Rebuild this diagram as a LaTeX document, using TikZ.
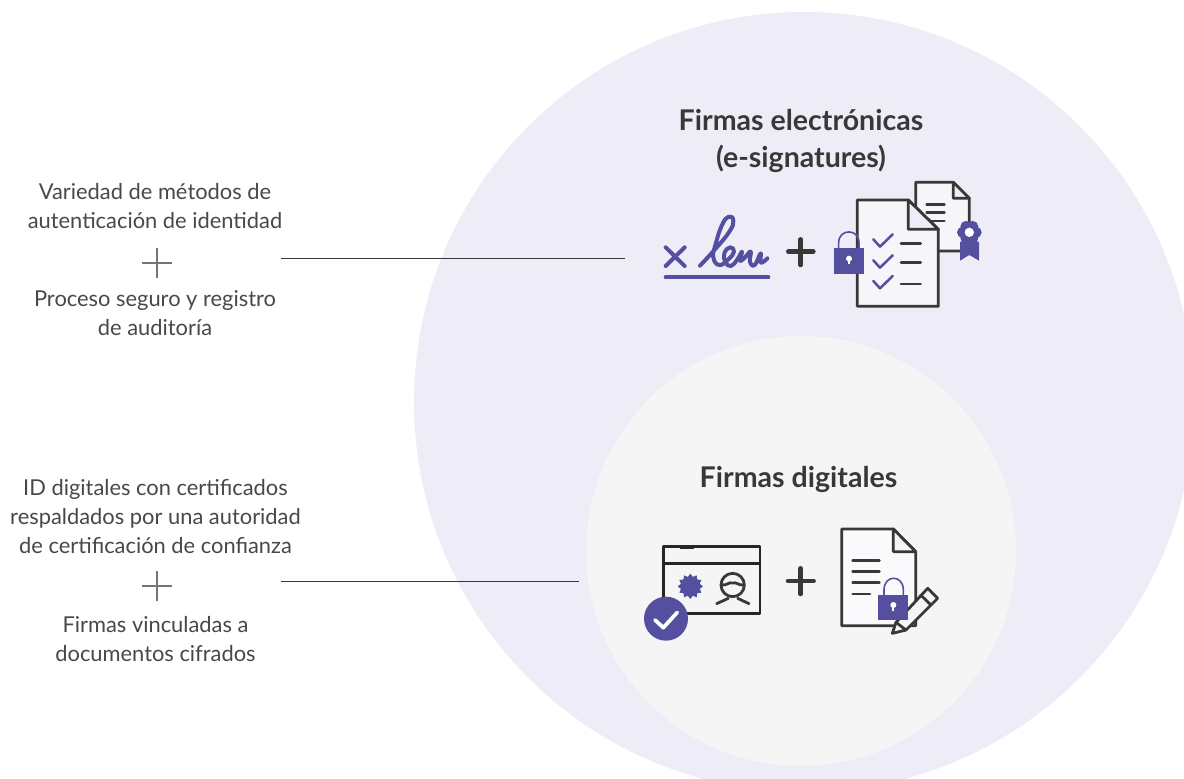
\documentclass[tikz,border=0pt]{standalone}
\usepackage{fontspec}
\setmainfont{Lato}
\usetikzlibrary{shapes.geometric}
\definecolor{outerfill}{HTML}{EEECF7}
\definecolor{innerfill}{HTML}{F5F5F5}
\definecolor{signpurple}{HTML}{54509F}
\definecolor{icondark}{HTML}{3A3837}
\definecolor{pagefill}{HTML}{F6F6FA}
\definecolor{sidetext}{HTML}{484848}
\definecolor{plusgray}{HTML}{757575}
\tikzset{
  sidelabel/.style={align=center,text=sidetext,font=\fontsize{16.4}{21.75}\selectfont},
  headlabel/.style={align=center,text=icondark,font=\fontsize{21.4}{27.75}\selectfont\bfseries},
  iconline/.style={draw=icondark,line width=2.1pt,line join=round,line cap=round},
  checkline/.style={draw=signpurple,line width=1.9pt,line cap=round,line join=round},
  bigplus/.style={draw=icondark,line width=3.4pt,line cap=round},
  sideplus/.style={draw=plusgray,line width=2.1pt}
}
\begin{document}
\begin{tikzpicture}[x=0.75pt,y=-0.75pt]
  \useasboundingbox (0,0) rectangle (1184,778);
  \clip (0,0) rectangle (1184,778);
  % circles
  \fill[outerfill] (804,402) circle (390);
  \fill[innerfill] (801,551) circle (215);
  % headings
  \node[headlabel] (outerhead) at (801,140.5) {Firmas electrónicas\\(e-signatures)};
  \node[headlabel] (innerhead) at (798.5,479) {Firmas digitales};
  % left column
  \node[sidelabel] (authtext) at (155,205.7) {Variedad de métodos de\\autenticación de identidad};
  \node[sidelabel] (audittext) at (155,312.7) {Proceso seguro y registro\\de auditoría};
  \node[sidelabel] (certtext) at (155.5,516.2) {ID digitales con certificados\\respaldados por una autoridad\\de certificación de confianza};
  \node[sidelabel] (cipertext) at (155.5,638.7) {Firmas vinculadas a\\documentos cifrados};
  \draw[sideplus] (142,263) -- (172,263);
  \draw[sideplus] (157,248) -- (157,278);
  \draw[sideplus] (142,586) -- (172,586);
  \draw[sideplus] (157,571) -- (157,601);
  % connectors
  \coordinate (topstart) at (281,258);
  \coordinate (topend) at (625,258);
  \coordinate (lowstart) at (281,581);
  \coordinate (lowend) at (579,581);
  \draw[icondark,line width=0.7pt] (topstart) -- (topend);
  \draw[icondark,line width=0.7pt] (lowstart) -- (lowend);
  % upper icons
  \begin{scope}[shift={(650,170)},scale=1/3]
    \draw[signpurple,line width=3pt,line cap=round] (47,232) -- (104,288);
    \draw[signpurple,line width=3pt,line cap=round] (104,232) -- (47,288);
    \draw[signpurple,line width=3pt,line cap=round] (47,322) -- (355,322);
    \draw[signpurple,line width=3pt,line cap=round,line join=round] plot[smooth,tension=0.8] coordinates {
      (150,287) (195,238) (238,185) (250,152) (236,140) (216,165) (197,222) (190,262) (208,285)
      (235,268) (252,245) (240,232) (223,250) (226,276) (243,288) (262,268) (276,245)
      (270,272) (285,262) (302,245) (300,275) (314,285) (332,250) (332,278) (352,265)};
    % back page
    \draw[iconline,fill=pagefill] (797,37) -- (910,37) -- (958,85) -- (958,243) -- (797,243) -- cycle;
    \draw[iconline,fill=outerfill] (910,37) -- (910,85) -- (958,85) -- cycle;
    \foreach \ypos in {104,128,153}
      \draw[iconline] (830,\ypos) -- (883,\ypos);
    % rosette
    \fill[signpurple] (930,215) -- (987,215) -- (987,272) -- (958,255) -- (930,272) -- cycle;
    \foreach \ang in {0,60,...,300}
      \fill[signpurple] (958,187) ++(\ang:20) circle (17);
    \fill[signpurple] (958,187) circle (25);
    \fill[white] (958,187) circle (14);
    % front page
    \draw[iconline,fill=pagefill] (622,90) -- (775,90) -- (865,178) -- (865,409) -- (622,409) -- cycle;
    \draw[iconline,fill=outerfill] (775,90) -- (775,178) -- (865,178) -- cycle;
    \foreach \ypos/\ydash in {0/221,63/277,125/342} {
      \draw[checkline] (670,208+\ypos) -- (690,230+\ypos) -- (728,193+\ypos);
      \draw[iconline] (753,\ydash) -- (812,\ydash);
    }
    % lock
    \draw[signpurple,line width=1.2pt] (566,235) -- (566,218) .. controls (566,175) and (627,175) .. (627,218) -- (627,235);
    \fill[signpurple] (552,235) rectangle (642,312);
    \fill[white] (597,266) circle (9);
    \draw[white,line width=1.4pt] (597,266) -- (597,283);
    % plus
    \draw[bigplus] (415,245) -- (490,245);
    \draw[bigplus] (452,208) -- (452,285);
  \end{scope}
  % lower icons
  \begin{scope}[shift={(630,515)},scale=1/3]
    \draw[draw=black!85,line width=2.1pt,line join=round] (100,95) rectangle (390,296);
    \draw[draw=black!85,line width=2.1pt] (100,145) -- (390,145);
    \draw[draw=black!85,line width=3.2pt] (150,95) -- (193,95);
    \node (seal) [star,star points=12,star point ratio=1.3,fill=signpurple,inner sep=0pt,minimum size=19pt] at (181,214) {};
    % person
    \draw[iconline] (308,210) circle (35);
    \draw[iconline] (275,210) .. controls (292,212) and (296,200) .. (308,204) .. controls (320,200) and (325,212) .. (341,210);
    \draw[iconline] (260,266) -- (295,250);
    \draw[iconline] (323,250) -- (357,266);
    % check badge
    \fill[signpurple] (108,311) circle (66);
    \draw[white,line width=2.8pt,line cap=round,line join=round] (75,315) -- (100,338) -- (142,292);
    % plus
    \draw[bigplus] (474,198) -- (551,198);
    \draw[bigplus] (512,160) -- (512,237);
    % page
    \draw[iconline,fill=pagefill!60!white] (635,42) -- (790,42) -- (857,110) -- (857,332) -- (635,332) -- cycle;
    \draw[iconline,fill=innerfill] (790,42) -- (790,110) -- (857,110) -- cycle;
    \foreach \ypos/\xend in {137/748,170/748,203/748,237/720}
      \draw[iconline] (668,\ypos) -- (\xend,\ypos);
    % pencil
    \draw[iconline,fill=innerfill] (787,355) -- (798,322) -- (893,220) -- (923,250) -- (828,345) -- cycle;
    \draw[iconline] (798,322) -- (828,345);
    \draw[iconline] (872,240) -- (903,270);
    % lock
    \draw[signpurple,line width=1.2pt] (762,240) -- (762,225) .. controls (762,178) and (820,178) .. (820,225) -- (820,240);
    \fill[signpurple] (745,240) rectangle (835,316);
    \fill[white] (790,270) circle (9);
    \draw[white,line width=1.4pt] (790,270) -- (790,287);
  \end{scope}
\end{tikzpicture}
\end{document}
